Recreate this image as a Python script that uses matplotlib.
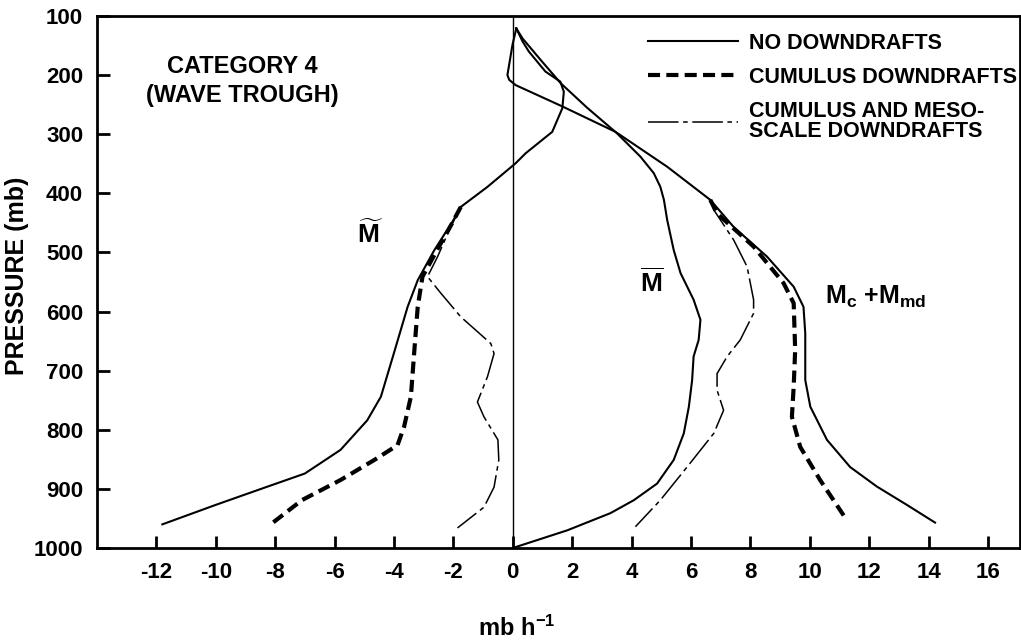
import matplotlib.pyplot as plt
from matplotlib.lines import Line2D

plt.rcParams['font.family'] = ['Liberation Sans', 'DejaVu Sans']
plt.rcParams['font.weight'] = 'bold'
plt.rcParams['axes.unicode_minus'] = False
plt.rcParams['mathtext.fontset'] = 'custom'
plt.rcParams['mathtext.rm'] = 'Liberation Sans:bold'
plt.rcParams['mathtext.it'] = 'Liberation Sans:bold'
plt.rcParams['mathtext.bf'] = 'Liberation Sans:bold'

# M-tilde profiles (mb h-1 vs pressure mb)
mt_p = [121, 143, 160, 194, 211, 228, 256, 296, 332, 349, 389, 423, 448, 496,
        547, 592, 670, 744, 784, 834, 874, 896, 927, 960]
mt_x = [0.12, 0.33, 0.54, 1.1, 1.6, 1.72, 1.67, 1.33, 0.44, 0.1, -0.85, -1.75,
        -2.03, -2.64, -3.2, -3.54, -4.0, -4.44, -4.9, -5.8, -7.0, -8.25, -10.0, -11.8]
mt_cd_p = [423, 454, 496, 541, 592, 670, 744, 795, 826, 851, 885, 919, 958]
mt_cd_x = [-1.75, -2.08, -2.55, -3.04, -3.2, -3.32, -3.43, -3.66, -3.88, -4.66,
           -5.8, -7.1, -8.1]
mt_md_p = [423, 448, 475, 507, 541, 569, 609, 654, 671, 710, 753, 778, 817, 851,
           897, 931, 966]
mt_md_x = [-1.75, -2.0, -2.25, -2.53, -2.87, -2.42, -1.75, -0.74, -0.63, -0.85,
           -1.19, -0.97, -0.5, -0.47, -0.63, -0.97, -1.86]

# M-bar
mb_p = [121, 138, 175, 214, 255, 298, 338, 366, 389, 411, 445, 496, 535, 580,
        614, 648, 676, 716, 761, 806, 851, 891, 919, 941, 970, 1000]
mb_x = [0.12, 0.33, 0.95, 1.62, 2.5, 3.5, 4.3, 4.75, 4.97, 5.09, 5.2, 5.42, 5.65,
        6.09, 6.32, 6.26, 6.09, 6.04, 5.93, 5.76, 5.42, 4.86, 4.08, 3.29, 1.84, 0.0]

# Mc + Mmd profiles
mc_p = [121, 149, 188, 200, 208, 217, 253, 296, 355, 411, 457, 507, 558, 592,
        637, 716, 761, 817, 863, 896, 927, 957]
mc_x = [0.12, -0.01, -0.14, -0.18, -0.12, 0.1, 1.67, 3.46, 5.2, 6.65, 7.44, 8.56,
        9.46, 9.79, 9.85, 9.85, 10.02, 10.58, 11.36, 12.26, 13.27, 14.22]
mc_cd_p = [411, 434, 490, 552, 586, 665, 727, 778, 829, 885, 953]
mc_cd_x = [6.65, 6.88, 8.11, 9.12, 9.46, 9.51, 9.46, 9.4, 9.68, 10.35, 11.25]
mc_md_p = [411, 428, 479, 524, 580, 603, 648, 676, 705, 733, 767, 806, 863, 919, 964]
mc_md_x = [6.65, 6.77, 7.44, 7.89, 8.11, 8.11, 7.66, 7.22, 6.88, 6.88, 7.1, 6.77,
           5.87, 4.97, 4.13]

x_ticks = [-12, -10, -8, -6, -4, -2, 0, 2, 4, 6, 8, 10, 12, 14, 16]
y_ticks = [100, 200, 300, 400, 500, 600, 700, 800, 900, 1000]
legend_labels = ['NO DOWNDRAFTS', 'CUMULUS DOWNDRAFTS',
                 'CUMULUS AND MESO-\nSCALE DOWNDRAFTS']

solid = dict(color='black', lw=1.5, linestyle='-')
dashed = dict(color='black', lw=3, linestyle=(0, (2.9, 1.5)))
dashdot = dict(color='black', lw=1.1, linestyle=(0, (20, 3, 3, 3)))

fig = plt.figure(figsize=(10.21, 6.42), dpi=100)
ax = fig.add_axes([0.095, 0.1464, 0.904, 0.8287])

ax.axvline(0, color='black', lw=1.0)

ax.plot(mt_x, mt_p, **solid)
ax.plot(mt_cd_x, mt_cd_p, **dashed)
ax.plot(mt_md_x, mt_md_p, **dashdot)
ax.plot(mb_x, mb_p, **solid)
ax.plot(mc_x, mc_p, **solid)
ax.plot(mc_cd_x, mc_cd_p, **dashed)
ax.plot(mc_md_x, mc_md_p, **dashdot)

ax.set_xlim(-14, 17.08)
ax.set_ylim(1000, 100)
ax.set_xticks(x_ticks)
ax.set_yticks(y_ticks)
ax.tick_params(direction='in', length=9, width=2, labelsize=16, pad=10)
for s in ax.spines.values():
    s.set_linewidth(2)

ax.text(-9.1, 210, 'CATEGORY 4\n(WAVE TROUGH)', ha='center', va='center',
        fontsize=17, linespacing=1.35)
ax.text(-4.8, 468, r'$\widetilde{\mathrm{M}}$', ha='center', va='center', fontsize=19)
ax.text(4.7, 550, r'$\overline{\mathrm{M}}$', ha='center', va='center', fontsize=19)
ax.text(10.5, 575, r'M$_\mathrm{c}$ +M$_\mathrm{md}$', ha='left', va='center',
        fontsize=18)

fig.text(17 / 1021, 1 - 276 / 642, 'PRESSURE (mb)', rotation=90,
         ha='center', va='center', fontsize=18)
fig.text(517 / 1021, 1 - 628 / 642, r'$\mathrm{mb\ h^{-1}}$',
         ha='center', va='center', fontsize=17)

handles = [Line2D([], [], **solid), Line2D([], [], **dashed), Line2D([], [], **dashdot)]
leg = ax.legend(handles, legend_labels, loc='upper left',
                bbox_to_anchor=(648 / 1021, 1 - 33 / 642),
                bbox_transform=fig.transFigure, frameon=False, fontsize=15.5,
                handlelength=4.2, handletextpad=0.5, borderpad=0,
                borderaxespad=0, labelspacing=0.6)
leg.get_texts()[2].set_linespacing(0.95)

plt.savefig('out.png', dpi=100)
